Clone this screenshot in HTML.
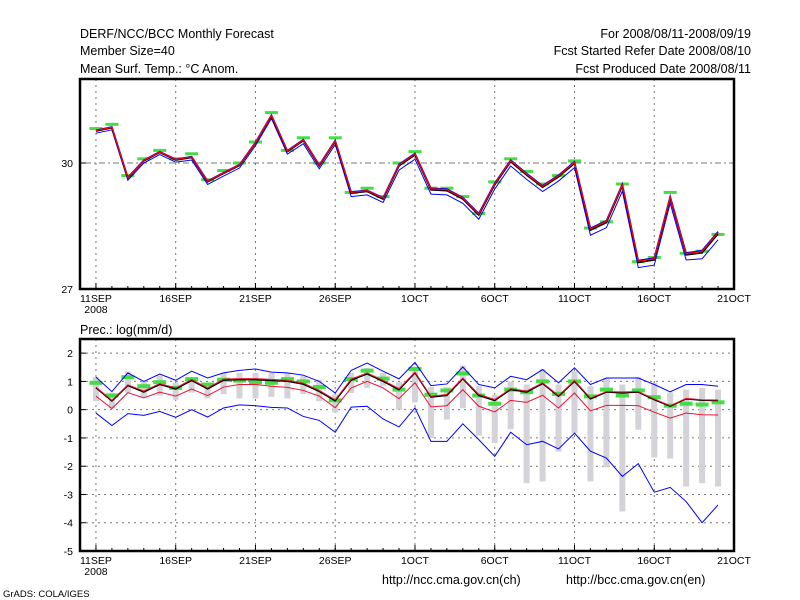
<!DOCTYPE html>
<html><head><meta charset="utf-8"><style>
body{margin:0;background:#fff}
svg{display:block;font-family:"Liberation Sans",sans-serif}
</style></head><body>
<svg id="c" width="800" height="600" viewBox="0 0 800 600">
<g font-size="12.5" fill="#000">
<text x="80" y="38">DERF/NCC/BCC Monthly Forecast</text>
<text x="80" y="55">Member Size=40</text>
<text x="80" y="73">Mean Surf. Temp.: °C Anom.</text>
<text x="751" y="38" text-anchor="end">For 2008/08/11-2008/09/19</text>
<text x="751" y="55" text-anchor="end">Fcst Started Refer Date 2008/08/10</text>
<text x="751" y="73" text-anchor="end">Fcst Produced Date 2008/08/11</text>
<text x="80" y="334">Prec.: log(mm/d)</text>
<text x="382" y="584">http://ncc.cma.gov.cn(ch)</text>
<text x="566" y="584">http://bcc.cma.gov.cn(en)</text>
<text x="3" y="597" font-size="9.5">GrADS: COLA/IGES</text>
</g>
</svg>
<script>
const days=[...Array(40).keys()];
const xLabels=["11SEP","16SEP","21SEP","26SEP","1OCT","6OCT","11OCT","16OCT","21OCT"];
const topTicks=[27,30];
const botTicks=[-5,-4,-3,-2,-1,0,1,2];
const topMean=[30.76,30.84,29.64,30.05,30.25,30.07,30.13,29.55,29.75,29.94,30.47,31.12,30.27,30.53,29.93,30.51,29.28,29.32,29.14,29.93,30.19,29.36,29.34,29.14,28.76,29.48,30.03,29.71,29.42,29.67,29.99,28.40,28.58,29.45,27.63,27.69,29.16,27.81,27.86,28.31];
const topSpread=[0.05,0.05,0.05,0.05,0.05,0.05,0.06,0.06,0.06,0.06,0.06,0.06,0.06,0.07,0.07,0.07,0.08,0.08,0.08,0.1,0.1,0.1,0.1,0.1,0.1,0.1,0.1,0.1,0.1,0.1,0.1,0.12,0.12,0.12,0.12,0.12,0.12,0.12,0.14,0.14];
const topObs=[30.82,30.92,29.7,30.1,30.3,30.1,30.22,29.6,29.82,30.0,30.5,31.2,30.3,30.6,30.0,30.6,29.3,29.4,29.2,30.0,30.27,29.4,29.4,29.2,28.8,29.55,30.1,29.8,29.5,29.7,30.05,28.45,28.6,29.5,27.65,27.75,29.3,27.85,27.9,28.3];
const pMean=[0.77,0.3,0.85,0.62,0.89,0.73,1.03,0.73,1.04,1.06,1.06,1.03,1.0,0.9,0.64,0.31,1.04,1.26,1.0,0.7,1.3,0.44,0.5,1.09,0.5,0.32,0.71,0.62,0.92,0.47,1.0,0.38,0.62,0.59,0.62,0.35,0.12,0.38,0.33,0.32];
const pRedHi=[0.8,0.33,0.88,0.66,0.92,0.77,1.07,0.77,1.08,1.1,1.1,1.07,1.04,0.94,0.68,0.35,1.08,1.3,1.04,0.74,1.33,0.47,0.54,1.12,0.54,0.36,0.74,0.66,0.95,0.5,1.03,0.41,0.64,0.63,0.64,0.38,0.14,0.4,0.35,0.34];
const pRedLo=[0.48,0.04,0.6,0.42,0.62,0.48,0.73,0.5,0.8,0.89,0.89,0.83,0.79,0.68,0.48,0.07,0.77,1.0,0.77,0.39,0.95,0.1,0.14,0.71,0.12,-0.08,0.33,0.26,0.51,0.06,0.59,-0.04,0.15,0.15,0.14,-0.09,-0.3,-0.12,-0.18,-0.19];
const pBlueHi=[1.15,0.64,1.3,1.0,1.26,1.04,1.36,1.12,1.3,1.39,1.44,1.33,1.3,1.22,1.0,0.59,1.39,1.65,1.36,1.09,1.67,0.85,0.91,1.51,0.89,0.77,1.18,1.06,1.42,0.95,1.48,0.89,1.12,1.12,1.12,0.89,0.63,0.89,0.89,0.83];
const pBlueLo=[-0.12,-0.56,-0.14,-0.2,-0.06,-0.27,0,-0.26,0.06,0.17,0.14,0.08,0.06,-0.24,-0.38,-0.8,0.09,0.12,-0.33,-0.61,0.06,-1.12,-1.12,-0.5,-1.06,-1.65,-0.8,-1.24,-1.12,-1.39,-0.83,-1.47,-1.71,-2.36,-1.91,-2.92,-2.75,-3.25,-4.0,-3.37];
const pBoxTop=[1.15,0.6,1.35,1.0,1.2,0.95,1.1,0.9,1.3,1.3,1.3,1.3,1.3,1.2,1.06,0.54,1.3,1.48,1.3,0.97,1.53,0.8,0.8,1.56,0.83,0.53,1.0,0.89,1.44,0.89,1.36,0.83,1.12,0.89,1.16,0.95,0.61,0.71,0.77,0.71];
const pBoxBot=[0.3,0.05,0.6,0.45,0.5,0.35,0.6,0.4,0.55,0.4,0.4,0.45,0.4,0.55,0.3,-0.1,0.59,0.77,0.83,0,0.26,-1.0,-0.35,0.06,-0.92,-1.18,-0.69,-2.6,-2.54,-1.48,-0.83,-2.54,-2.04,-3.6,-0.71,-1.69,-1.73,-2.72,-2.6,-2.72];
const pObs=[0.95,0.5,1.15,0.83,0.97,0.77,1.08,0.89,1.06,1.03,0.97,0.95,1.08,1.0,0.8,0.33,1.08,1.38,1.1,0.71,1.44,0.53,0.68,1.28,0.5,0.21,0.71,0.62,1.0,0.56,1.0,0.47,0.71,0.5,0.68,0.44,0.14,0.21,0.18,0.26];

const NS='http://www.w3.org/2000/svg';
const svg=document.getElementById('c');
const X0=80,X1=734,D0=-1,D1=40;
const xs=d=>X0+(d-D0)*(X1-X0)/(D1-D0);
function mk(tag,attrs,parent){const e=document.createElementNS(NS,tag);for(const k in attrs)e.setAttribute(k,attrs[k]);(parent||svg).appendChild(e);return e;}
function panel(name,yTop,yBot,vMin,vMax,ticks,hgrid,dash){
  const ys=v=>yBot-(v-vMin)*(yBot-yTop)/(vMax-vMin);
  const g=mk('g',{});
  
  
  for(let i=0;i<xLabels.length;i++){const x=xs(i*5);
    if(i<xLabels.length-1){const l=mk('line',{x1:x,x2:x,y1:yTop,y2:yBot,stroke:'#777','stroke-width':1,'stroke-dasharray':'2,4'},g);
    
    }
    const t=mk('text',{x:x,y:yBot+13,'text-anchor':'middle','font-size':10.5},g);t.textContent=xLabels[i];
    
    
    mk('line',{x1:x,x2:x,y1:yBot,y2:yBot-6,stroke:'#000'},g);
  }
  const y8=mk('text',{x:xs(0),y:yBot+24,'text-anchor':'middle','font-size':10.5},g);y8.textContent='2008';
  
  
  for(let d=0;d<40;d++)mk('line',{x1:xs(d),x2:xs(d),y1:yBot,y2:yBot-3,stroke:'#000'},g);
  for(const v of hgrid){const l=mk('line',{x1:X0,x2:X1,y1:ys(v),y2:ys(v),stroke:'#777','stroke-dasharray':dash},g);
    
    }
  for(const v of ticks){const t=mk('text',{x:X0-7,y:ys(v)+4,'text-anchor':'end','font-size':10.5},g);t.textContent=v;
    
    
    mk('line',{x1:X0,x2:X0+6,y1:ys(v),y2:ys(v),stroke:'#000'},g);}
  return {g,ys};
}
function poly(g,vals,color,w,name){
  const pts=vals.map((v,i)=>xs(days[i])+','+v).join(' ');
  const p=mk('polyline',{points:pts,fill:'none',stroke:color,'stroke-width':w},g);
  
  
}
// top panel
const T=panel('temperature-panel',79,289,27,32,topTicks,[30],'2,3,6,3');
topObs.forEach((v,i)=>{const r=mk('rect',{x:xs(i)-6.5,y:T.ys(v)-1.5,width:13,height:3,fill:'#44dd44'},T.g);
  
  });
poly(T.g,topMean.map((m,i)=>T.ys(m-topSpread[i])),'#0000ff',1,'temp-blue-lower');
poly(T.g,topMean.map((m,i)=>T.ys(m+topSpread[i]*0.4)),'#0000ff',1.5,'temp-blue-upper');
poly(T.g,topMean.map(m=>T.ys(m)),'#000',1.5,'temp-ensemble-mean');
poly(T.g,topMean.map((m,i)=>T.ys(m+topSpread[i]*0.25)),'#ff0000',1.3,'temp-red-line');
mk('rect',{x:X0,y:79,width:X1-X0,height:210,fill:'none',stroke:'#000','stroke-width':2.5},T.g);
// bottom panel
const B=panel('precip-panel',339,551,-5,2.5,botTicks,[-4,-3,-2,-1,0,1,2],'2,4');
pBoxTop.forEach((v,i)=>{const r=mk('rect',{x:xs(i)-3,y:B.ys(v),width:6,height:B.ys(pBoxBot[i])-B.ys(v),fill:'#d3d3d8'},B.g);
  
  });
pObs.forEach((v,i)=>{const r=mk('rect',{x:xs(i)-6.5,y:B.ys(v)-2,width:13,height:4,fill:'#44dd44'},B.g);
  
  });
poly(B.g,pBlueHi.map(B.ys),'#0000ff',1,'precip-blue-upper');
poly(B.g,pBlueLo.map(B.ys),'#0000ff',1,'precip-blue-lower');
poly(B.g,pRedLo.map(B.ys),'#ee1133',1,'precip-red-lower');
poly(B.g,pMean.map(B.ys),'#000',1.3,'precip-ensemble-mean');
poly(B.g,pRedHi.map(B.ys),'#ee1133',1,'precip-red-upper');
mk('rect',{x:X0,y:339,width:X1-X0,height:212,fill:'none',stroke:'#000','stroke-width':2.5},B.g);
</script>
</body></html>
